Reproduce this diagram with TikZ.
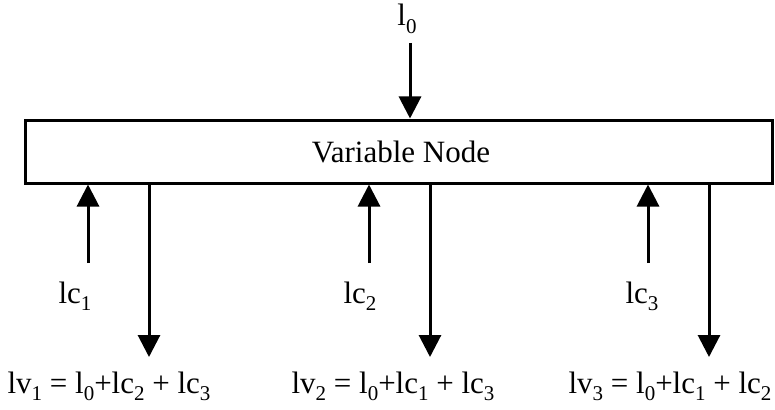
\documentclass[tikz,border=0pt]{standalone}
\usepackage{fontspec}
\setmainfont{Liberation Serif}
\usetikzlibrary{arrows.meta}
\newcommand\sbx[1]{\raisebox{-0.24em}{\fontsize{21}{21}\selectfont #1}}
\tikzset{
  lbl/.style={inner sep=0pt, anchor=base, font=\fontsize{31}{35}\selectfont},
  arr/.style={line width=3pt, -{Triangle[width=22pt,length=22pt]}},
  vbox/.style={draw, line width=3pt, minimum width=747pt, minimum height=63pt, inner sep=0pt, font=\fontsize{31}{35}\selectfont}
}
\begin{document}
\begin{tikzpicture}[x=1pt,y=-1pt]
\useasboundingbox (0,0) rectangle (775,409);
\node[vbox] (vn) at (398.5,151.5) {};
\node[lbl] (vt) at (401,162.5) {Variable Node};
\node[lbl] (l0) at (407,26) {l\sbx{0}};
\coordinate (l0s) at (410,43);
\draw[arr] (l0s) -- (vn.north -| l0s);
% check-to-variable inputs
\coordinate (u1) at (88,263);
\coordinate (u2) at (369,263);
\coordinate (u3) at (648,263);
\draw[arr] (u1) -- (vn.south -| u1);
\draw[arr] (u2) -- (vn.south -| u2);
\draw[arr] (u3) -- (vn.south -| u3);
% outputs
\coordinate (d1) at (149,357);
\coordinate (d2) at (430,357);
\coordinate (d3) at (709,357);
\draw[arr] (vn.south -| d1) -- (d1);
\draw[arr] (vn.south -| d2) -- (d2);
\draw[arr] (vn.south -| d3) -- (d3);
\node[lbl] (lc1) at (75,303) {lc\sbx{1}};
\node[lbl] (lc2) at (360,303) {lc\sbx{2}};
\node[lbl] (lc3) at (642,303) {lc\sbx{3}};
\node[lbl] (lv1) at (109,393) {lv\sbx{1} = l\sbx{0}+lc\sbx{2} + lc\sbx{3}};
\node[lbl] (lv2) at (393,393) {lv\sbx{2} = l\sbx{0}+lc\sbx{1} + lc\sbx{3}};
\node[lbl] (lv3) at (670,393) {lv\sbx{3} = l\sbx{0}+lc\sbx{1} + lc\sbx{2}};
\end{tikzpicture}
\end{document}
